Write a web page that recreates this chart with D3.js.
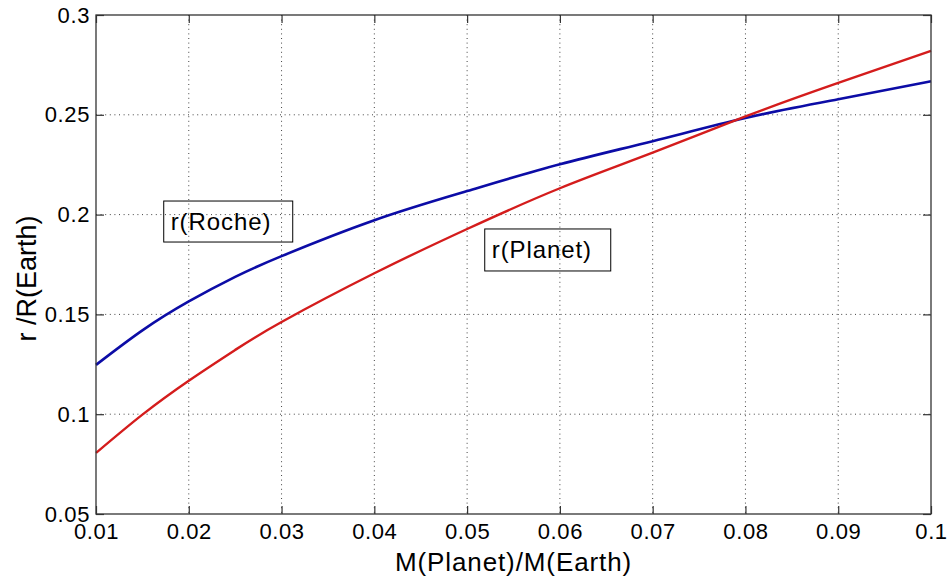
<!DOCTYPE html>
<html>
<head>
<meta charset="utf-8">
<script src="https://cdn.jsdelivr.net/npm/d3@7/dist/d3.min.js"></script>
<style>
  html, body { margin: 0; padding: 0; background: #fff; }
  svg { display: block; }
  text { font-family: "Liberation Sans", Arial, Helvetica, sans-serif; fill: #000; }
</style>
</head>
<body>
<svg id="chart" width="947" height="578"></svg>
<script>
// ---- data ----
const massRatio = [0.01, 0.015, 0.02, 0.025, 0.03, 0.04, 0.05, 0.06, 0.07, 0.08, 0.09, 0.10];
const rRoche    = [0.1247, 0.1420, 0.1565, 0.1688, 0.1792, 0.1972, 0.2118, 0.2252, 0.2368, 0.2484, 0.2578, 0.2668];
const rPlanet   = [0.0806, 0.0998, 0.1168, 0.1322, 0.1462, 0.1706, 0.1928, 0.2132, 0.2310, 0.2492, 0.2660, 0.2820];
const xTicks = [0.01, 0.02, 0.03, 0.04, 0.05, 0.06, 0.07, 0.08, 0.09, 0.1];
const yTicks = [0.05, 0.1, 0.15, 0.2, 0.25, 0.3];
const xTickLabels = ["0.01","0.02","0.03","0.04","0.05","0.06","0.07","0.08","0.09","0.1"];
const yTickLabels = ["0.05","0.1","0.15","0.2","0.25","0.3"];
const seriesNames = ["r(Roche)", "r(Planet)"];
const labelAnchors = [[0.0173, 0.2068], [0.0519, 0.1928]]; // data coords of label box top-left
const xLabel = "M(Planet)/M(Earth)";
const yLabel = "r /R(Earth)";

// ---- layout ----
const W = 947, H = 578;
const margin = {left: 96, top: 15, right: 16, bottom: 64};
const iw = W - margin.left - margin.right;
const ih = H - margin.top - margin.bottom;

const svg = d3.select("#chart");
const g = svg.append("g").attr("transform", `translate(${margin.left},${margin.top})`);

const x = d3.scaleLinear().domain([0.01, 0.1]).range([0, iw]);
const y = d3.scaleLinear().domain([0.05, 0.3]).range([ih, 0]);

// grid
const grid = g.append("g").attr("class", "grid");
grid.selectAll("line.vx").data(xTicks.slice(1, -1)).enter().append("line")
  .attr("x1", d => x(d)).attr("x2", d => x(d)).attr("y1", 0).attr("y2", ih)
  .attr("stroke", "#444").attr("stroke-width", 1).attr("stroke-dasharray", "1,3.6");
grid.selectAll("line.hy").data(yTicks.slice(1, -1)).enter().append("line")
  .attr("y1", d => y(d)).attr("y2", d => y(d)).attr("x1", 0).attr("x2", iw)
  .attr("stroke", "#444").attr("stroke-width", 1).attr("stroke-dasharray", "1,3.6");

// label boxes (transparent)
const boxW = [129, 126], boxH = [41, 42];
seriesNames.forEach((name, i) => {
  const bx = x(labelAnchors[i][0]), by = y(labelAnchors[i][1]);
  g.append("rect").attr("x", bx).attr("y", by).attr("width", boxW[i]).attr("height", boxH[i])
    .attr("fill", "none").attr("stroke", "#000").attr("stroke-width", 1);
  g.append("text").attr("x", bx + 7).attr("y", by + boxH[i] / 2 + 8)
    .attr("font-size", 24).attr("letter-spacing", 0.9).text(name);
});

// lines
const pts = (ys) => massRatio.map((m, i) => [m, ys[i]]);
const line = d3.line().x(d => x(d[0])).y(d => y(d[1])).curve(d3.curveNatural);
g.append("path").datum(pts(rRoche)).attr("d", line)
  .attr("fill", "none").attr("stroke", "#0c0ca6").attr("stroke-width", 2.6);
g.append("path").datum(pts(rPlanet)).attr("d", line)
  .attr("fill", "none").attr("stroke", "#d41c1c").attr("stroke-width", 2.4);

// axes (ticks inward, all four sides)
const tl = 8;
const axB = g.append("g").attr("transform", `translate(0,${ih})`)
  .call(d3.axisBottom(x).tickValues(xTicks).tickSizeInner(-tl).tickSizeOuter(0)
    .tickPadding(9).tickFormat((d, i) => xTickLabels[i]));
const axT = g.append("g")
  .call(d3.axisTop(x).tickValues(xTicks).tickSizeInner(-tl).tickSizeOuter(0).tickFormat(""));
const axL = g.append("g")
  .call(d3.axisLeft(y).tickValues(yTicks).tickSizeInner(-tl).tickSizeOuter(0)
    .tickPadding(6).tickFormat((d, i) => yTickLabels[i]));
const axR = g.append("g").attr("transform", `translate(${iw},0)`)
  .call(d3.axisRight(y).tickValues(yTicks).tickSizeInner(-tl).tickSizeOuter(0).tickFormat(""));
[axB, axT, axL, axR].forEach(a => {
  a.select(".domain").remove();
  a.selectAll(".tick line").attr("stroke", "#333").attr("stroke-width", 1.2);
  a.selectAll(".tick text").attr("font-size", 22).attr("letter-spacing", 0.6)
    .attr("font-family", "Liberation Sans, Arial, sans-serif").attr("fill", "#000");
});

// frame
g.append("rect").attr("x", 0).attr("y", 0).attr("width", iw).attr("height", ih)
  .attr("fill", "none").attr("stroke", "#333").attr("stroke-width", 1.3);

// axis labels
svg.append("text").attr("x", margin.left + iw / 2).attr("y", 571)
  .attr("text-anchor", "middle").attr("font-size", 26).attr("letter-spacing", 0.9).text(xLabel);
svg.append("text").attr("transform", `translate(36,${margin.top + ih / 2 + 14}) rotate(-90)`)
  .attr("text-anchor", "middle").attr("font-size", 27).text(yLabel);
</script>
</body>
</html>
